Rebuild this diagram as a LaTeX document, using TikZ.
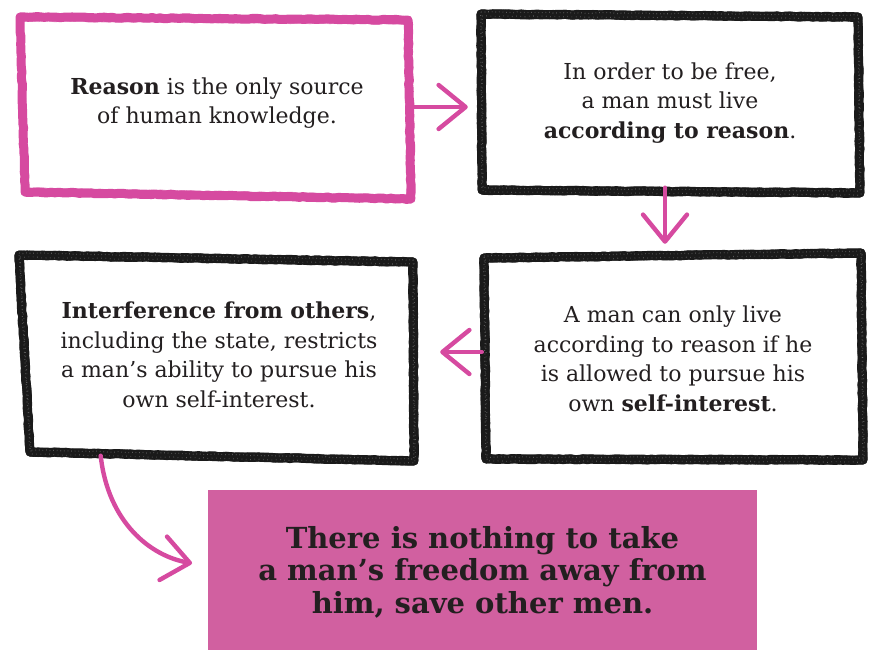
\documentclass[tikz,border=0pt]{standalone}
\usepackage{fontspec}
\setmainfont{DejaVu Serif}
\usetikzlibrary{arrows.meta,decorations.pathmorphing,calc}
\definecolor{pinkline}{RGB}{214,74,160}
\definecolor{pinkfill}{RGB}{209,96,160}
\definecolor{ink}{RGB}{35,31,32}
\definecolor{charcoal}{RGB}{26,26,26}
\tikzset{
  textbox/.style={inner sep=0pt, align=center, text=ink,
    font=\fontsize{22}{29.5}\selectfont},
  rough/.style={decorate, decoration={random steps, segment length=4pt, amplitude=0.5pt}},
  crayon/.style={line width=9pt, line join=round, line cap=round, rough},
  grain/.style={line width=1.1pt, white, opacity=0.28, dash pattern=on 0.7pt off 2.9pt, rough},
  link/.style={pinkline, line width=4.4pt, line cap=round,
    -{Straight Barb[length=27pt,width=44pt,round]}},
}
\begin{document}
\begin{tikzpicture}[x=1pt,y=-1pt]
\pgfmathsetseed{7}
\fill[white] (0,0) rectangle (870,650);
\useasboundingbox (0,0) rectangle (870,650);

% text nodes (geometry = boxes)
\node[textbox, minimum width=390, minimum height=180] (b1) at (217,103)
  {\textbf{Reason} is the only source\\of human knowledge.};
\node[textbox, minimum width=378, minimum height=179] (b2) at (670,103)
  {In order to be free,\\a man must live\\\textbf{according to reason}.};
\node[textbox, minimum width=378, minimum height=204] (b3) at (673,359)
  {A man can only live\\according to reason if he\\is allowed to pursue his\\own \textbf{self-interest}.};
\node[textbox, minimum width=394, minimum height=205] (b4) at (219,355)
  {\textbf{Interference from others},\\including the state, restricts\\a man's ability to pursue his\\own self-interest.};
\node[fill=pinkfill, inner sep=0pt, align=center, text=ink,
  font=\fontsize{29}{32.5}\selectfont\bfseries,
  minimum width=549, minimum height=164] (b5) at (482.5,572)
  {There is nothing to take\\a man's freedom away from\\him, save other men.};

% sketchy borders
\draw[pinkline, crayon] (20,17) -- (408,20) -- (411,199) -- (25,192) -- cycle;
\draw[pinkline, line width=3pt, opacity=0.6, rough] (22,20) -- (406,23) -- (408,196) -- (27,189) -- cycle;

\foreach \p in {0,1}{
  \draw[charcoal, crayon] (481,14) -- (858,17) -- (860,193) -- (482,190) -- cycle;
  \draw[charcoal, crayon] (484,258) -- (861,253) -- (863,460) -- (486,459) -- cycle;
  \draw[charcoal, crayon] (19,255) -- (413,262) -- (414,461) -- (30,452) -- cycle;
}
\draw[grain] (481,12) -- (858,15) -- (860,191) -- (482,188) -- cycle;
\draw[grain] (484,256) -- (861,251) -- (863,458) -- (486,457) -- cycle;
\draw[grain] (19,253) -- (413,260) -- (414,459) -- (30,450) -- cycle;
\draw[grain, dash pattern=on 0.6pt off 3.7pt] (482,16) -- (859,19) -- (861,195) -- (483,192) -- cycle;
\draw[grain, dash pattern=on 0.6pt off 3.7pt] (485,260) -- (862,255) -- (864,462) -- (487,461) -- cycle;
\draw[grain, dash pattern=on 0.6pt off 3.7pt] (20,257) -- (414,264) -- (415,463) -- (31,454) -- cycle;

% connectors
\draw[link, shorten >=13pt] ($(b1.east)+(-4,4)$) -- ($(b2.west)+(0,4)$);
\draw[link, shorten >=13pt] ($(b2.south)+(-5,-5)$) -- ($(b3.north)+(-8,0)$);
\draw[link, shorten >=24pt] ($(b3.west)+(-2,-7)$) -- ($(b4.east)+(0,-3)$);
\draw[link, shorten >=16pt] ($(b4.south west)!0.2!(b4.south east)+(0,-2)$)
  .. controls (108,522) and (150,556) .. ($(b5.west)+(0,-6)$);
\end{tikzpicture}
\end{document}
